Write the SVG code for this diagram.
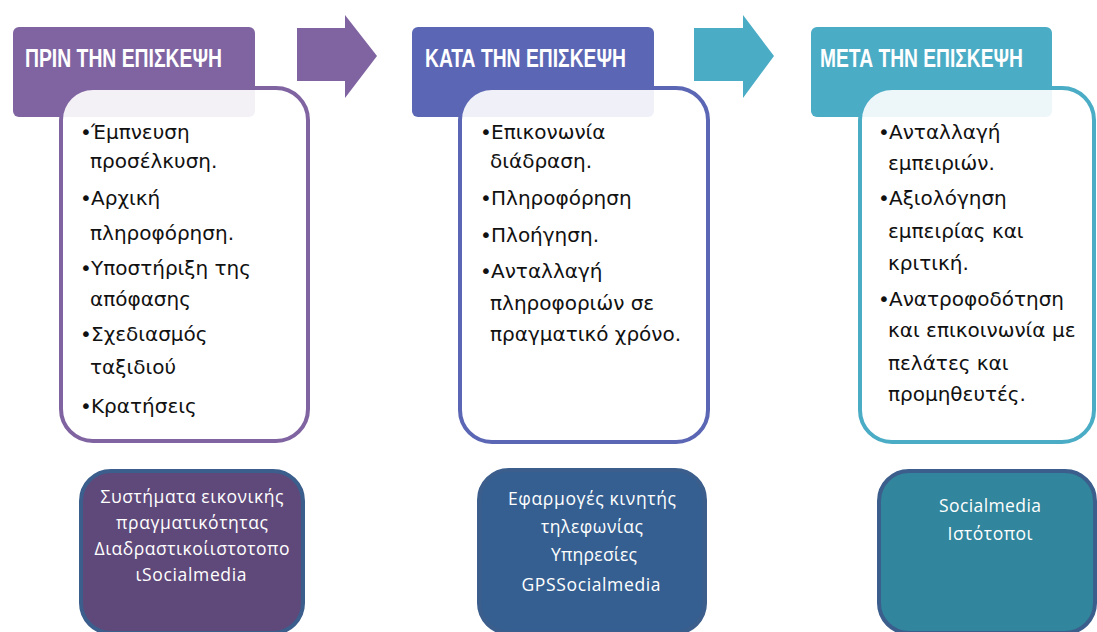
<svg xmlns="http://www.w3.org/2000/svg" width="1097" height="632" viewBox="0 0 1097 632">
<style>
.hdr{font-family:"Liberation Sans",Arial,sans-serif;font-weight:bold;font-size:26px;fill:#fff}
.body{font-family:"DejaVu Sans","Liberation Sans",sans-serif;font-size:20px;fill:#111}
.bul{font-family:"DejaVu Sans",sans-serif;font-size:20px;fill:#111}
.card{fill:#fff;fill-opacity:0.9;stroke-width:4}
.low{font-family:"Open Sans","Liberation Sans",sans-serif;font-size:17.5px;fill:#fff;text-anchor:middle}
.lowbox{stroke:#3b5e8c;stroke-width:4}
</style>
<rect width="1097" height="632" fill="#fff"/>
<g id="connectors">
<polygon points="297,28 345,28 345,15 377,56 345,98 345,81 297,81" fill="#8064a2"/>
<polygon points="694,28 743,28 743,15 774,56 743,98 743,81 694,81" fill="#4bacc6"/>
</g>
<g id="before">
<rect x="13" y="27" width="242" height="90" rx="6" fill="#8064a2"/>
<text class="hdr" x="25" y="67" textLength="197" lengthAdjust="spacingAndGlyphs">ΠΡΙΝ ΤΗΝ ΕΠΙΣΚΕΨΗ</text>
<rect class="card" x="61" y="88" width="247" height="353" rx="32" stroke="#8064a2"/>
<text class="bul" x="80" y="139">•</text>
<text class="body" x="91" y="139">Έμπνευση</text>
<text class="body" x="90" y="168">προσέλκυση.</text>
<text class="bul" x="80" y="205">•</text>
<text class="body" x="91" y="205">Αρχική</text>
<text class="body" x="90" y="240">πληροφόρηση.</text>
<text class="bul" x="80" y="275">•</text>
<text class="body" x="91" y="275">Υποστήριξη της</text>
<text class="body" x="90" y="306">απόφασης</text>
<text class="bul" x="80" y="341">•</text>
<text class="body" x="91" y="341">Σχεδιασμός</text>
<text class="body" x="90" y="374">ταξιδιού</text>
<text class="bul" x="80" y="413">•</text>
<text class="body" x="91" y="413">Κρατήσεις</text>
</g>
<g id="during">
<rect x="412" y="27" width="242" height="90" rx="6" fill="#5b66b4"/>
<text class="hdr" x="425" y="67" textLength="201" lengthAdjust="spacingAndGlyphs">ΚΑΤΑ ΤΗΝ ΕΠΙΣΚΕΨΗ</text>
<rect class="card" x="460" y="88" width="248" height="354" rx="32" stroke="#5b66b4"/>
<text class="bul" x="480" y="139">•</text>
<text class="body" x="491" y="139">Επικονωνία</text>
<text class="body" x="490" y="168">διάδραση.</text>
<text class="bul" x="480" y="205">•</text>
<text class="body" x="491" y="205">Πληροφόρηση</text>
<text class="bul" x="480" y="242">•</text>
<text class="body" x="491" y="242">Πλοήγηση.</text>
<text class="bul" x="480" y="278">•</text>
<text class="body" x="491" y="278">Ανταλλαγή</text>
<text class="body" x="490" y="310">πληροφοριών σε</text>
<text class="body" x="490" y="341">πραγματικό χρόνο.</text>
</g>
<g id="after">
<rect x="811" y="27" width="241" height="90" rx="6" fill="#4bacc6"/>
<text class="hdr" x="820" y="67" textLength="203" lengthAdjust="spacingAndGlyphs">ΜΕΤΑ ΤΗΝ ΕΠΙΣΚΕΨΗ</text>
<rect class="card" x="860" y="88" width="234" height="354" rx="32" stroke="#4bacc6"/>
<text class="bul" x="878" y="139">•</text>
<text class="body" x="889" y="139">Ανταλλαγή</text>
<text class="body" x="888" y="170">εμπειριών.</text>
<text class="bul" x="878" y="205">•</text>
<text class="body" x="889" y="205">Αξιολόγηση</text>
<text class="body" x="888" y="238">εμπειρίας και</text>
<text class="body" x="888" y="270">κριτική.</text>
<text class="bul" x="878" y="306">•</text>
<text class="body" x="889" y="306">Ανατροφοδότηση</text>
<text class="body" x="888" y="337">και επικοινωνία με</text>
<text class="body" x="888" y="370">πελάτες και</text>
<text class="body" x="888" y="401">προμηθευτές.</text>
</g>
<g id="tools-before">
<rect class="lowbox" x="81" y="471" width="222" height="162" rx="30" fill="#5f497a"/>
<text class="low" x="192" y="503" textLength="183">Συστήματα εικονικής</text>
<text class="low" x="192" y="529" textLength="152">πραγματικότητας</text>
<text class="low" x="192" y="555" textLength="195">Διαδραστικοίιστοτοπο</text>
<text class="low" x="191" y="581" textLength="111">ιSocialmedia</text>
</g>
<g id="tools-during">
<rect class="lowbox" x="479" y="470" width="226" height="163" rx="30" fill="#365f91"/>
<text class="low" x="592" y="505" textLength="168">Εφαρμογές κινητής</text>
<text class="low" x="592" y="533" textLength="102">τηλεφωνίας</text>
<text class="low" x="594" y="561" textLength="86">Υπηρεσίες</text>
<text class="low" x="591" y="591" textLength="139">GPSSocialmedia</text>
</g>
<g id="tools-after">
<rect class="lowbox" x="879" y="471" width="216" height="162" rx="30" fill="#31859c"/>
<text class="low" x="990" y="512" textLength="102">Socialmedia</text>
<text class="low" x="990" y="540" textLength="85">Ιστότοποι</text>
</g>
</svg>
